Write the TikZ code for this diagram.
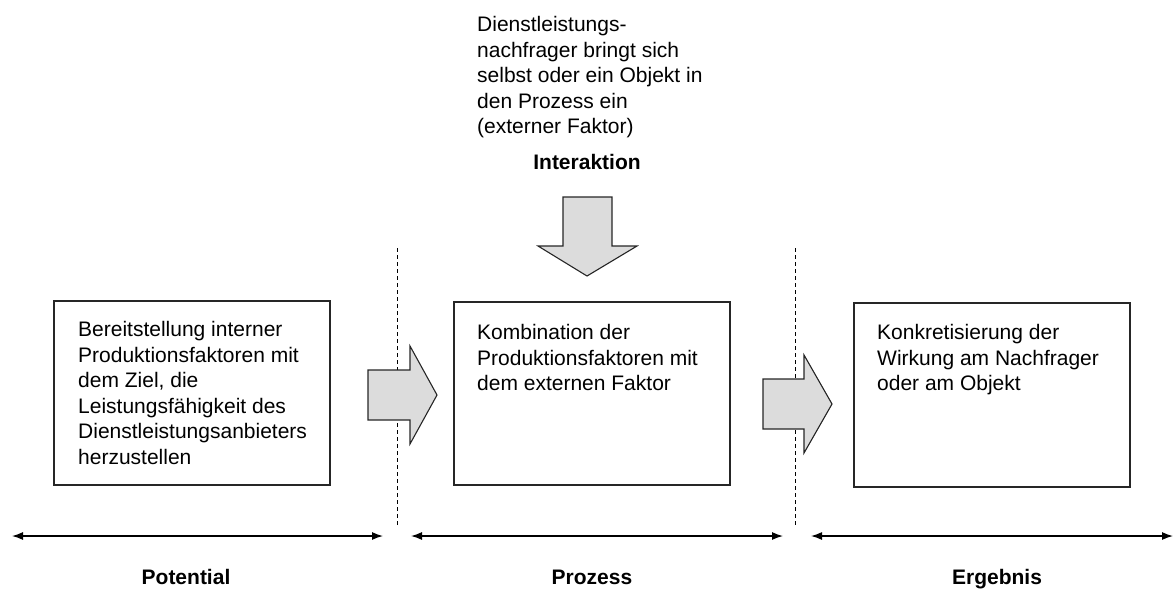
\documentclass[tikz,border=0pt]{standalone}
\usepackage{fontspec}
\setmainfont{Liberation Sans}
\usetikzlibrary{arrows.meta}
\definecolor{arrowfill}{HTML}{DCDCDC}
\tikzset{
  txt/.style={anchor=north west, inner sep=0pt, align=left, font=\fontsize{21}{25.6}\selectfont},
  lbl/.style={inner sep=0pt, anchor=base, font=\fontsize{21}{24}\selectfont\bfseries},
  box/.style={draw=black!85, line width=1.1pt},
  blockarrow/.style={draw=black!85, fill=arrowfill, line width=1.1pt, line join=miter},
  divider/.style={draw=black, line width=0.9pt, dash pattern=on 4pt off 3pt},
  span/.style={draw=black, line width=1.3pt, {Latex[length=11pt,width=8pt]}-{Latex[length=11pt,width=8pt]}}
}
\begin{document}
\begin{tikzpicture}[x=1pt,y=-1pt]
\useasboundingbox (0,0) rectangle (1174,589);
% boxes
\draw[box] (54,301) rectangle (330,485);
\draw[box] (454,302) rectangle (730,485);
\draw[box] (854,303) rectangle (1130,487);
\node[txt] (t1) at (78,321) {Bereitstellung interner\\Produktionsfaktoren mit\\dem Ziel, die\\Leistungsfähigkeit des\\Dienstleistungsanbieters\\herzustellen};
\node[txt] (t2) at (477,324) {Kombination der\\Produktionsfaktoren mit\\dem externen Faktor};
\node[txt] (t3) at (877,324) {Konkretisierung der\\Wirkung am Nachfrager\\oder am Objekt};
\node[txt] (top) at (477,16) {Dienstleistungs-\\nachfrager bringt sich\\selbst oder ein Objekt in\\den Prozess ein\\(externer Faktor)};
\node[lbl] (inter) at (587,169) {Interaktion};
% dividers
\draw[divider] (397,248) -- (397,527);
\draw[divider] (795,248) -- (795,527);
% block arrows
\draw[blockarrow] (368,370) -- (410,370) -- (410,346) -- (437,395) -- (410,444) -- (410,420) -- (368,420) -- cycle;
\draw[blockarrow] (763,379) -- (804,379) -- (804,355) -- (832,404) -- (804,453) -- (804,429) -- (763,429) -- cycle;
\draw[blockarrow] (563,197) -- (612,197) -- (612,246) -- (637,246) -- (587,276) -- (538,246) -- (563,246) -- cycle;
% spans
\coordinate (p1) at (12,536); \coordinate (p2) at (383,536);
\coordinate (q1) at (411,536); \coordinate (q2) at (783,536);
\coordinate (r1) at (811,536); \coordinate (r2) at (1173,536);
\draw[span] (p1) -- (p2);
\draw[span] (q1) -- (q2);
\draw[span] (r1) -- (r2);
\node[lbl] (pot) at (186,584) {Potential};
\node[lbl] (pro) at (592,584) {Prozess};
\node[lbl] (erg) at (997,584) {Ergebnis};
\end{tikzpicture}
\end{document}
